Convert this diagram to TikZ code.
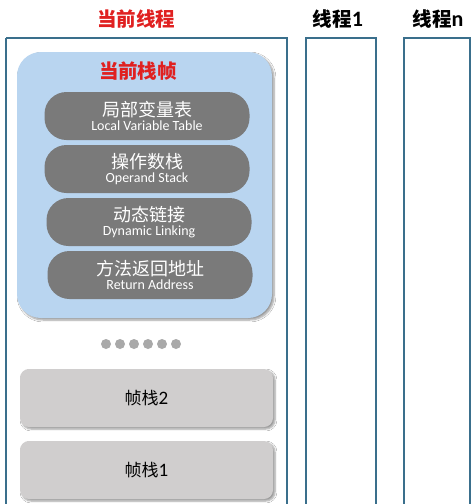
\documentclass[tikz,border=0pt]{standalone}
\usepackage{fontspec}
\setmainfont{Carlito}
\newfontfamily\cjk{Noto Sans CJK SC}
\usetikzlibrary{shadows,shadows.blur}
\definecolor{frameblue}{HTML}{3A6F8C}
\definecolor{framered}{HTML}{E02020}
\definecolor{lightblue}{HTML}{B9D5F0}
\definecolor{pillgray}{HTML}{7A7A7A}
\definecolor{boxgray}{HTML}{D0CECE}
\definecolor{dotgray}{HTML}{A9A9A9}
\begin{document}
\begin{tikzpicture}[x=1pt,y=-1pt,
  threadbox/.style={draw=frameblue,line width=1.6pt},
  title/.style={font=\fontsize{19.5}{21}\selectfont\bfseries},
  frame/.style={fill=lightblue,rounded corners=24pt,blur shadow={shadow xshift=2pt,shadow yshift=-2pt,shadow blur steps=6}},
  pill/.style={fill=pillgray,rounded corners=22pt,minimum width=205pt,minimum height=48pt,text=white,align=center,inner sep=0pt},
  gbox/.style={fill=boxgray,rounded corners=9pt,minimum width=253pt,minimum height=58pt,inner sep=0pt,blur shadow={shadow xshift=2pt,shadow yshift=-2pt,shadow blur steps=5}},
  dot/.style={circle,fill=dotgray,minimum size=10pt,inner sep=0pt}]
\useasboundingbox (0,0) rectangle (474,504);
\fill[white] (0,0) rectangle (474,504);
% thread boxes
\draw[threadbox] (6,38) -- (6,506) (6,38) -- (287,38) -- (287,506);
\draw[threadbox] (306,506) -- (306,38) -- (376,38) -- (376,506);
\draw[threadbox] (404,506) -- (404,38) -- (470,38) -- (470,506);
\node[title,text=framered] (t0) at (136,19) {\cjk 当前线程};
\node[title] (t1) at (338,19) {\cjk 线程\normalfont\bfseries\fontsize{22}{22}\selectfont 1};
\node[title] (tn) at (438,19) {\cjk 线程\normalfont\bfseries\fontsize{22}{22}\selectfont n};
% current frame
\path[frame] (17,52) rectangle (272,318);
\node[title,text=framered] (cf) at (138,71) {\cjk 当前栈帧};
\newcommand{\pilltext}[2]{{\cjk\fontsize{18}{20}\selectfont #1}\\[2pt]{\fontsize{14}{15}\selectfont #2}}
\node[pill] (p1) at (147,116) {\pilltext{局部变量表}{Local Variable Table}};
\node[pill] (p2) at (147,169) {\pilltext{操作数栈}{Operand Stack}};
\node[pill] (p3) at (149,222) {\pilltext{动态链接}{Dynamic Linking}};
\node[pill] (p4) at (150,275) {\pilltext{方法返回地址}{Return Address}};
% dots
\foreach \i in {0,...,5} {\node[dot] (d\i) at (106+14*\i,344) {};}
% other frames
\node[gbox] (f2) at (146.5,398) {{\cjk\fontsize{17}{18}\selectfont 帧栈}{\fontsize{19}{18}\selectfont 2}};
\node[gbox] (f1) at (146.5,470) {{\cjk\fontsize{17}{18}\selectfont 帧栈}{\fontsize{19}{18}\selectfont 1}};
\end{tikzpicture}
\end{document}
